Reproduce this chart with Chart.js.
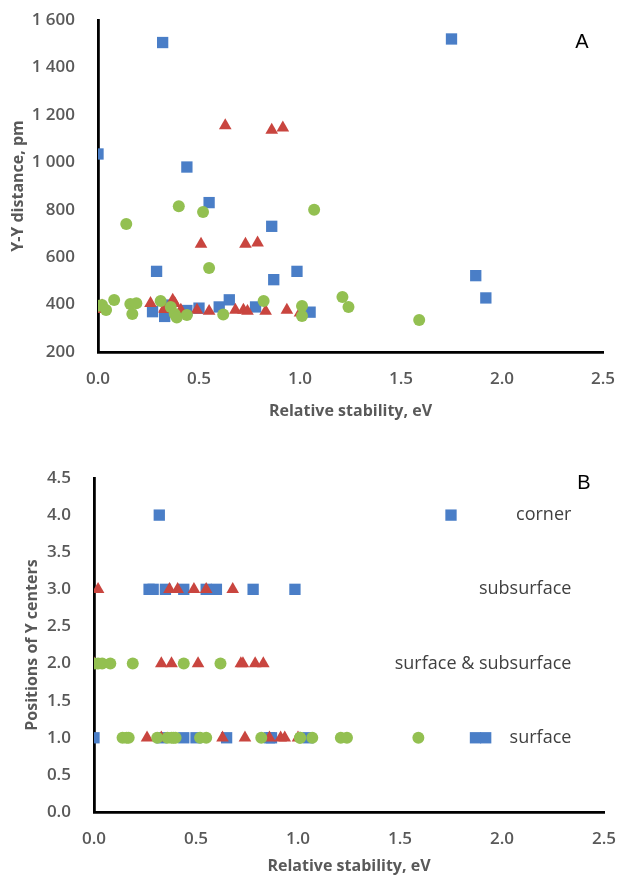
<!DOCTYPE html>
<html>
<head>
<meta charset="utf-8">
<script src="https://cdn.jsdelivr.net/npm/chart.js@4.4.0/dist/chart.umd.min.js"></script>
<style>
html, body { margin: 0; padding: 0; background: #fff; }
#wrap { position: relative; width: 617px; height: 876px; }
.box { position: absolute; left: 0; width: 617px; }
#boxA { top: 0; height: 430px; }
#boxB { top: 430px; height: 446px; }
</style>
</head>
<body>
<div id="wrap">
  <div class="box" id="boxA"><canvas id="chartA"></canvas></div>
  <div class="box" id="boxB"><canvas id="chartB"></canvas></div>
</div>
<script>
// blue squares
var squareX    = [0.00, 0.27, 0.29, 0.32, 0.33, 0.35, 0.44, 0.44, 0.50, 0.55, 0.60, 0.65, 0.78, 0.86, 0.87, 0.985, 1.05, 1.75, 1.87, 1.92];
var squareDist = [1035, 370, 540, 1505, 350, 398, 980, 375, 385, 830, 390, 420, 390, 730, 505, 540, 368, 1520, 522, 428];
var squarePos  = [1, 3, 3, 4, 1, 3, 1, 3, 1, 3, 3, 1, 3, 1, 1, 3, 1, 4, 1, 1];

// red triangles
var triangleX    = [0.02, 0.00, 0.26, 0.33, 0.33, 0.37, 0.38, 0.41, 0.49, 0.51, 0.55, 0.63, 0.68, 0.72, 0.73, 0.74, 0.79, 0.83, 0.86, 0.915, 0.935, 1.00];
var triangleDist = [395, 380, 405, 385, 380, 419, 405, 377, 377, 655, 372, 1155, 377, 377, 655, 372, 660, 372, 1136, 1145, 377, 365];
var trianglePos  = [3, 2, 1, 2, 1, 3, 2, 3, 3, 2, 3, 1, 3, 2, 2, 1, 2, 2, 1, 1, 1, 1];

// green circles
var circleX    = [0.00, 0.02, 0.04, 0.08, 0.14, 0.16, 0.17, 0.19, 0.31, 0.36, 0.38, 0.40, 0.39, 0.44, 0.52, 0.55, 0.62, 0.82, 1.01, 1.01, 1.07, 1.21, 1.24, 1.59];
var circleDist = [395, 398, 377, 419, 740, 402, 360, 406, 415, 390, 360, 815, 345, 356, 790, 554, 358, 415, 394, 352, 800, 432, 390, 335];
var circlePos  = [2, 2, 2, 2, 1, 1, 1, 2, 1, 1, 1, 1, 1, 2, 1, 1, 2, 1, 1, 1, 1, 1, 1, 1];

// text beside the levels of chart B
var levelLabels = ['surface', 'surface & subsurface', 'subsurface', 'corner'];
var levelValues = [1, 2, 3, 4];

var blue = '#4A7EC7', red = '#C9453F', green = '#93C051';
var tickGray = '#595959';

Chart.defaults.font.family = "'Open Sans', sans-serif";

function points(xs, ys) {
    return xs.map(function(x, i) { return {x: x, y: ys[i]}; });
}

function series(label, xs, ys, color, style, radius, order) {
    return {
        label: label,
        data: points(xs, ys),
        backgroundColor: color,
        borderWidth: 0,
        pointStyle: style,
        pointRadius: radius,
        order: order
    };
}

function thousands(v) {
    if (v >= 1000) return Math.floor(v / 1000) + ' ' + String(v % 1000).padStart(3, '0');
    return String(v);
}

var panelText = {
    id: 'panelText',
    afterDatasetsDraw: function(chart, args, opts) {
        var ctx = chart.ctx, area = chart.chartArea;
        ctx.save();
        ctx.fillStyle = '#000';
        ctx.font = '20px "Liberation Sans", Arial, sans-serif';
        ctx.textAlign = 'center';
        ctx.textBaseline = 'middle';
        ctx.fillText(opts.letter, area.right + opts.dx, area.top + opts.dy);
        if (opts.labels) {
            ctx.font = '18px "Open Sans"';
            ctx.fillStyle = '#404040';
            ctx.textAlign = 'right';
            opts.labels.forEach(function(t, i) {
                ctx.fillText(t, chart.scales.x.getPixelForValue(opts.labelX),
                    chart.scales.y.getPixelForValue(opts.levels[i]));
            });
        }
        ctx.restore();
    }
};

function buildScales(c) {
    return {
        x: {
            type: 'linear',
            min: 0, max: 2.5,
            grid: {display: false},
            border: {display: true, color: '#000', width: 2.8},
            ticks: {stepSize: 0.5, padding: 9, color: tickGray, font: {size: 17, weight: '600'},
                callback: function(v) { return v.toFixed(1); }},
            title: {display: true, text: 'Relative stability, eV', color: tickGray,
                font: {size: 16, weight: 'bold'}, padding: {top: 0, bottom: c.xTitlePad}},
            afterFit: function(s) {
                s.height = c.xHeight;
                s.paddingLeft = 0;
                s.paddingRight = 0;
            }
        },
        y: {
            type: 'linear',
            min: c.yMin, max: c.yMax,
            grid: {display: false},
            border: {display: true, color: '#000', width: 2.8},
            ticks: {stepSize: c.yStep, padding: 15, color: tickGray, font: {size: 17, weight: '600'},
                callback: c.yFmt},
            title: {display: true, text: c.yTitle, color: tickGray,
                font: {size: 16, weight: 'bold'}, padding: {top: c.yTitlePad, bottom: 0}},
            afterFit: function(s) {
                s.width = c.yWidth;
                s.paddingTop = 0;
                s.paddingBottom = 0;
            }
        }
    };
}

new Chart(document.getElementById('chartA'), {
    type: 'scatter',
    data: {
        datasets: [
            series('squares', squareX, squareDist, blue, 'rect', 8, 2),
            series('triangles', triangleX, triangleDist, red, 'triangle', 7.3, 1),
            series('circles', circleX, circleDist, green, 'circle', 6, 0)
        ]
    },
    options: {
        responsive: true,
        maintainAspectRatio: false,
        animation: false,
        layout: {padding: {left: 0, right: 14, top: 20, bottom: 0}},
        plugins: {
            legend: {display: false},
            tooltip: {enabled: false},
            panelText: {letter: 'A', dx: -21, dy: 22}
        },
        scales: buildScales({
            yMin: 200, yMax: 1600, yStep: 200, yFmt: thousands,
            yTitle: 'Y-Y distance, pm', yTitlePad: 9, yWidth: 98,
            xHeight: 78, xTitlePad: 9
        })
    },
    plugins: [panelText]
});

new Chart(document.getElementById('chartB'), {
    type: 'scatter',
    data: {
        datasets: [
            series('squares', squareX, squarePos, blue, 'rect', 8, 2),
            series('triangles', triangleX, trianglePos, red, 'triangle', 7.3, 1),
            series('circles', circleX, circlePos, green, 'circle', 6, 0)
        ]
    },
    options: {
        responsive: true,
        maintainAspectRatio: false,
        animation: false,
        layout: {padding: {left: 0, right: 13, top: 48, bottom: 0}},
        plugins: {
            legend: {display: false},
            tooltip: {enabled: false},
            panelText: {letter: 'B', dx: -20, dy: 5, labels: levelLabels, levels: levelValues, labelX: 2.34}
        },
        scales: buildScales({
            yMin: 0, yMax: 4.5, yStep: 0.5, yFmt: function(v) { return v.toFixed(1); },
            yTitle: 'Positions of Y centers', yTitlePad: 23, yWidth: 94,
            xHeight: 64, xTitlePad: 0
        })
    },
    plugins: [panelText]
});
</script>
</body>
</html>
